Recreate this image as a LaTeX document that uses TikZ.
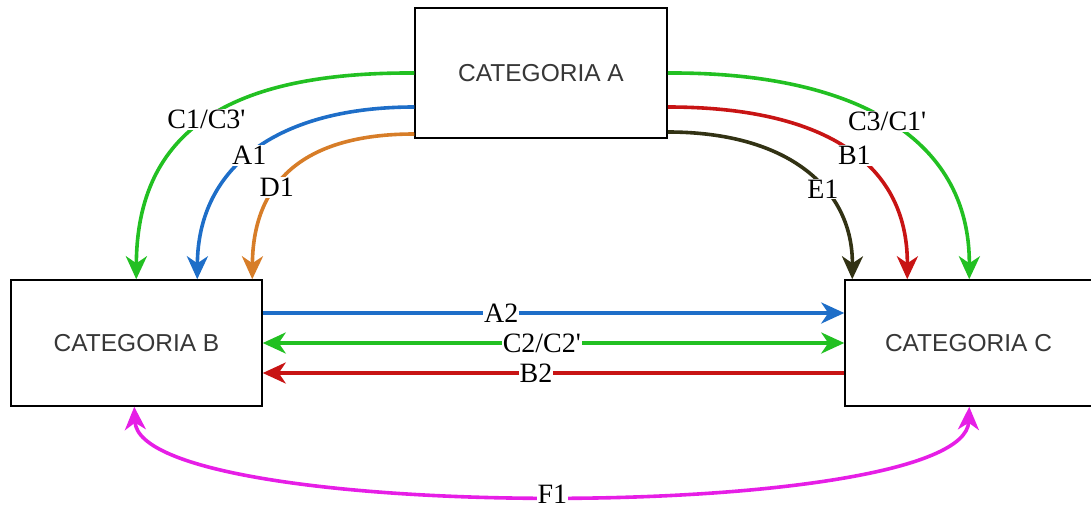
\documentclass[tikz,border=0pt]{standalone}
\usepackage{fontspec}
\setmainfont{Liberation Serif}
\newfontfamily\boxfont{Liberation Sans}
\usetikzlibrary{arrows.meta}
\definecolor{cgreen}{RGB}{34,192,34}
\definecolor{cblue}{RGB}{30,110,200}
\definecolor{corange}{RGB}{215,125,40}
\definecolor{cred}{RGB}{200,20,20}
\definecolor{cdark}{RGB}{50,50,20}
\definecolor{cmag}{RGB}{230,30,230}
\definecolor{boxtext}{RGB}{55,55,55}
\begin{document}
\begin{tikzpicture}[x=1pt,y=1pt,
  >={Stealth[length=23pt,width=21pt,inset=7pt]},
  catbox/.style={draw=black, line width=1.5pt, fill=white, inner sep=0pt,
    font=\boxfont\fontsize{24.5}{28}\selectfont, text=boxtext},
  link/.style={line width=3.6pt},
  lbl/.style={fill=white, inner sep=1pt, font=\fontsize{28}{30}\selectfont, text=black}]
\useasboundingbox (0,0) rectangle (1091,-511);
\node[catbox, minimum width=252, minimum height=130] (A) at (541,-73) {CATEGORIA A};
\node[catbox, minimum width=251, minimum height=126] (B) at (136.5,-343) {CATEGORIA B};
\node[catbox, minimum width=247, minimum height=126] (C) at (968.5,-343) {CATEGORIA C};
% left curves
\draw[link, cgreen, ->] (A.west) .. controls (230,-72) and (137,-130) .. ([xshift=126]B.north west)
  node[lbl, pos=0.5] {C1/C3\textquotesingle};
\draw[link, cblue, ->] ([yshift=-34]A.west) .. controls (280,-107) and (198,-165) .. ([xshift=187]B.north west)
  node[lbl, pos=0.53] {A1};
\draw[link, corange, ->] ([yshift=-61]A.west) .. controls (300,-134) and (253,-185) .. ([xshift=242]B.north west)
  node[lbl, pos=0.6] {D1};
% right curves
\draw[link, cgreen, ->] (A.east) .. controls (850,-72) and (970,-135) .. ([xshift=125]C.north west)
  node[lbl, pos=0.5] {C3/C1\textquotesingle};
\draw[link, cred, ->] ([yshift=-34]A.east) .. controls (820,-107) and (908,-160) .. ([xshift=63]C.north west)
  node[lbl, pos=0.54] {B1};
\draw[link, cdark, ->] ([yshift=-59]A.east) .. controls (790,-132) and (853,-190) .. ([xshift=8]C.north west)
  node[lbl, pos=0.6] {E1};
% horizontal
\draw[link, cblue, ->] ([yshift=30]B.east) -- ([yshift=30]C.west) node[lbl, pos=0.41] {A2};
\draw[link, cgreen, <->] (B.east) -- (C.west) node[lbl, pos=0.48] {C2/C2\textquotesingle};
\draw[link, cred, <-] ([yshift=-30]B.east) -- ([yshift=-30]C.west) node[lbl, pos=0.47] {B2};
% bottom
\draw[link, cmag, <->] ([xshift=124]B.south west) .. controls (140,-524) and (965,-524) .. ([xshift=125]C.south west)
  node[lbl, pos=0.5, inner ysep=0pt] {F1};
\end{tikzpicture}
\end{document}
